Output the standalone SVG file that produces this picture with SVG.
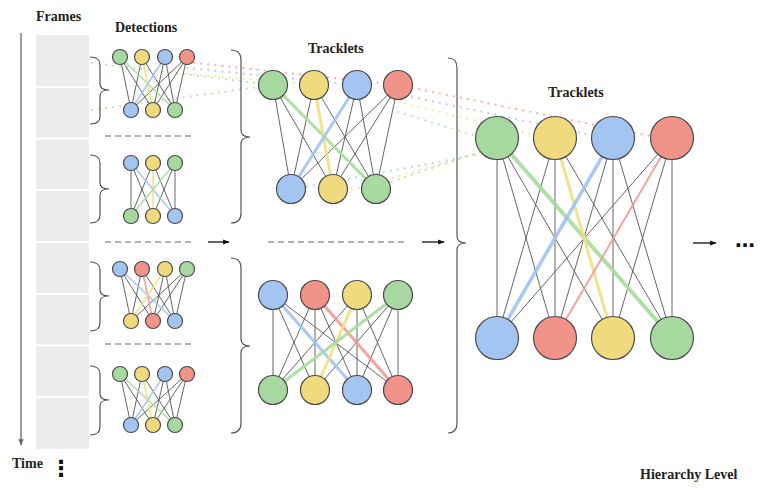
<svg xmlns="http://www.w3.org/2000/svg" width="771" height="492" viewBox="0 0 771 492">
<defs>
<style>
.t{font-family:"Liberation Serif","DejaVu Serif",serif;font-weight:bold;font-size:14px;fill:#222}
.n{stroke:#4a4a4a;stroke-width:1.2}
.G{fill:#a6d8a0}.Y{fill:#efdb7e}.B{fill:#a4c4f2}.R{fill:#f2938a}
.e{stroke:#555;stroke-width:0.9;fill:none}
.ce{fill:none;stroke-width:1.6;opacity:0.9}
.ce2{fill:none;stroke-width:3;opacity:0.9}
.eg{stroke:#a6dc9c}.ey{stroke:#efe080}.eb{stroke:#9fc2f5}.er{stroke:#f29a92}
.br{fill:none;stroke:#555;stroke-width:1.2}
.dash{stroke:#666;stroke-width:1.2;stroke-dasharray:6 4}
.dot{fill:none;stroke-width:2.2;stroke-linecap:round;stroke-dasharray:0.1 7;opacity:0.75}
.ar{stroke:#111;stroke-width:1.3}
</style>
<marker id="ah" viewBox="0 0 10 10" refX="9" refY="5" markerWidth="5" markerHeight="5" orient="auto">
<path d="M0,1 L10,5 L0,9 z" fill="#111"/>
</marker>
<marker id="ahg" viewBox="0 0 10 10" refX="9" refY="5" markerWidth="5" markerHeight="5" orient="auto">
<path d="M0,1 L10,5 L0,9 z" fill="#666"/>
</marker>
</defs>
<rect width="771" height="492" fill="#fff"/>

<!-- frames column -->
<g id="frames">
<rect x="36" y="35" width="53" height="414" fill="#ececec"/>
<g stroke="#fff" stroke-width="2">
<line x1="36" y1="87" x2="89" y2="87"/>
<line x1="36" y1="138.5" x2="89" y2="138.5"/>
<line x1="36" y1="190" x2="89" y2="190"/>
<line x1="36" y1="242" x2="89" y2="242"/>
<line x1="36" y1="294" x2="89" y2="294"/>
<line x1="36" y1="345.5" x2="89" y2="345.5"/>
<line x1="36" y1="397" x2="89" y2="397"/>
</g>
</g>
<g id="time-axis">
<line x1="21" y1="33" x2="21" y2="445" stroke="#666" stroke-width="1.3" marker-end="url(#ahg)"/>
</g>

<!-- labels -->
<text class="t" x="36" y="21">Frames</text>
<text class="t" x="115" y="32">Detections</text>
<text class="t" x="308" y="53">Tracklets</text>
<text class="t" x="548" y="97">Tracklets</text>
<text class="t" x="12" y="468">Time</text>
<text x="61" y="476" text-anchor="middle" style="font-family:'DejaVu Sans',sans-serif;font-weight:bold;font-size:22px;fill:#111">⋮</text>
<text class="t" x="640" y="479">Hierarchy Level</text>
<text x="735" y="247" style="font-family:'DejaVu Sans',sans-serif;font-weight:bold;font-size:20px;fill:#111">…</text>

<!-- connectors -->
<g id="connectors">
<!-- dotted trails -->
<g id="trails">
<line class="dot eg" x1="92" y1="63" x2="273" y2="85"/>
<line class="dot eg" x1="92" y1="110" x2="273" y2="85"/>
<line class="dot er" x1="187" y1="62" x2="398" y2="85"/>
<line class="dot eb" x1="187" y1="68" x2="357" y2="85"/>
<line class="dot ey" x1="187" y1="74" x2="314" y2="85"/>
<line class="dot er" x1="398" y1="85" x2="660" y2="138"/>
<line class="dot eb" x1="398" y1="94" x2="605" y2="138"/>
<line class="dot ey" x1="398" y1="102" x2="548" y2="138"/>
<line class="dot eg" x1="398" y1="112" x2="490" y2="140"/>
<line class="dot eb" x1="300" y1="188" x2="480" y2="154"/>
<line class="dot ey" x1="345" y1="192" x2="482" y2="152"/>
<line class="dot eg" x1="385" y1="184" x2="485" y2="150"/>
</g>

<!-- detection group 1 -->
<g class="e">
<line x1="120" y1="57" x2="131" y2="110"/><line x1="120" y1="57" x2="153" y2="110"/>
<line x1="142" y1="57" x2="131" y2="110"/><line x1="142" y1="57" x2="175" y2="110"/>
<line x1="165" y1="57" x2="153" y2="110"/><line x1="165" y1="57" x2="175" y2="110"/>
<line x1="187" y1="57" x2="131" y2="110"/><line x1="187" y1="57" x2="153" y2="110"/><line x1="187" y1="57" x2="175" y2="110"/>
</g>
<line class="ce eg" x1="120" y1="57" x2="175" y2="110"/>
<line class="ce ey" x1="142" y1="57" x2="153" y2="110"/>
<line class="ce eb" x1="165" y1="57" x2="131" y2="110"/>

<!-- detection group 2 -->
<g class="e">
<line x1="131" y1="163" x2="131" y2="216"/><line x1="131" y1="163" x2="153" y2="216"/>
<line x1="153" y1="163" x2="131" y2="216"/><line x1="153" y1="163" x2="175" y2="216"/>
<line x1="175" y1="163" x2="153" y2="216"/><line x1="175" y1="163" x2="175" y2="216"/>
</g>
<line class="ce eb" x1="131" y1="163" x2="175" y2="216"/>
<line class="ce ey" x1="153" y1="163" x2="153" y2="216"/>
<line class="ce eg" x1="175" y1="163" x2="131" y2="216"/>

<!-- detection group 3 -->
<g class="e">
<line x1="120" y1="269" x2="131" y2="321"/><line x1="120" y1="269" x2="153" y2="321"/>
<line x1="142" y1="269" x2="131" y2="321"/><line x1="142" y1="269" x2="175" y2="321"/>
<line x1="165" y1="269" x2="153" y2="321"/><line x1="165" y1="269" x2="175" y2="321"/>
<line x1="187" y1="269" x2="131" y2="321"/><line x1="187" y1="269" x2="153" y2="321"/><line x1="187" y1="269" x2="175" y2="321"/>
</g>
<line class="ce eb" x1="120" y1="269" x2="175" y2="321"/>
<line class="ce er" x1="142" y1="269" x2="153" y2="321"/>
<line class="ce ey" x1="165" y1="269" x2="131" y2="321"/>

<!-- detection group 4 -->
<g class="e">
<line x1="120" y1="374" x2="131" y2="425"/><line x1="120" y1="374" x2="153" y2="425"/>
<line x1="142" y1="374" x2="131" y2="425"/><line x1="142" y1="374" x2="175" y2="425"/>
<line x1="165" y1="374" x2="153" y2="425"/><line x1="165" y1="374" x2="175" y2="425"/>
<line x1="187" y1="374" x2="131" y2="425"/><line x1="187" y1="374" x2="153" y2="425"/><line x1="187" y1="374" x2="175" y2="425"/>
</g>
<line class="ce eg" x1="120" y1="374" x2="175" y2="425"/>
<line class="ce ey" x1="142" y1="374" x2="153" y2="425"/>
<line class="ce eb" x1="165" y1="374" x2="131" y2="425"/>

<!-- middle tracklets A -->
<g class="e">
<line x1="273" y1="85" x2="291" y2="189"/><line x1="273" y1="85" x2="333" y2="189"/>
<line x1="314" y1="85" x2="291" y2="189"/><line x1="314" y1="85" x2="376" y2="189"/>
<line x1="357" y1="85" x2="333" y2="189"/><line x1="357" y1="85" x2="376" y2="189"/>
<line x1="398" y1="85" x2="291" y2="189"/><line x1="398" y1="85" x2="333" y2="189"/><line x1="398" y1="85" x2="376" y2="189"/>
</g>
<line class="ce2 eg" x1="273" y1="85" x2="376" y2="189"/>
<line class="ce2 ey" x1="314" y1="85" x2="333" y2="189"/>
<line class="ce2 eb" x1="357" y1="85" x2="291" y2="189"/>

<!-- middle tracklets B -->
<g class="e">
<line x1="273" y1="295" x2="273" y2="390"/><line x1="273" y1="295" x2="315" y2="390"/><line x1="273" y1="295" x2="398" y2="390"/>
<line x1="315" y1="295" x2="273" y2="390"/><line x1="315" y1="295" x2="315" y2="390"/><line x1="315" y1="295" x2="357" y2="390"/>
<line x1="357" y1="295" x2="273" y2="390"/><line x1="357" y1="295" x2="357" y2="390"/><line x1="357" y1="295" x2="398" y2="390"/>
<line x1="398" y1="295" x2="315" y2="390"/><line x1="398" y1="295" x2="357" y2="390"/><line x1="398" y1="295" x2="398" y2="390"/>
</g>
<line class="ce2 eb" x1="273" y1="295" x2="357" y2="390"/>
<line class="ce2 er" x1="315" y1="295" x2="398" y2="390"/>
<line class="ce2 ey" x1="357" y1="295" x2="315" y2="390"/>
<line class="ce2 eg" x1="398" y1="295" x2="273" y2="390"/>

<!-- right tracklets -->
<g class="e">
<line x1="497" y1="138" x2="497" y2="338"/><line x1="497" y1="138" x2="555" y2="338"/><line x1="497" y1="138" x2="613" y2="338"/>
<line x1="555" y1="138" x2="497" y2="338"/><line x1="555" y1="138" x2="555" y2="338"/><line x1="555" y1="138" x2="672" y2="338"/>
<line x1="613" y1="138" x2="555" y2="338"/><line x1="613" y1="138" x2="613" y2="338"/><line x1="613" y1="138" x2="672" y2="338"/>
<line x1="672" y1="138" x2="497" y2="338"/><line x1="672" y1="138" x2="613" y2="338"/><line x1="672" y1="138" x2="672" y2="338"/>
</g>
<line class="ce2 eg" x1="497" y1="138" x2="672" y2="338" style="stroke-width:4"/>
<line class="ce2 ey" x1="555" y1="138" x2="613" y2="338"/>
<line class="ce2 eb" x1="613" y1="138" x2="497" y2="338" style="stroke-width:3.5"/>
<line class="ce2 er" x1="672" y1="138" x2="555" y2="338" style="stroke-width:2"/>

<!-- separators and arrows -->
<line class="dash" x1="105" y1="136" x2="194" y2="136"/>
<line class="dash" x1="105" y1="242" x2="194" y2="242"/>
<line class="dash" x1="105" y1="344" x2="194" y2="344"/>
<line class="dash" x1="268" y1="242" x2="408" y2="242"/>
<line class="ar" x1="208" y1="242" x2="229" y2="242" marker-end="url(#ah)"/>
<line class="ar" x1="422" y1="242" x2="444" y2="242" marker-end="url(#ah)"/>
<line class="ar" x1="693" y1="243" x2="716" y2="243" marker-end="url(#ah)"/>

<!-- braces -->
<path class="br" d="M90,57 Q100,57 100,65 L100,84 Q100,90 109,90 Q100,90 100,96 L100,117 Q100,124 90,124"/>
<path class="br" d="M90,155 Q100,155 100,163 L100,183 Q100,189 109,189 Q100,189 100,195 L100,215 Q100,223 90,223"/>
<path class="br" d="M90,262 Q100,262 100,270 L100,290 Q100,296 109,296 Q100,296 100,302 L100,323 Q100,331 90,331"/>
<path class="br" d="M90,366 Q100,366 100,374 L100,394 Q100,400 109,400 Q100,400 100,406 L100,427 Q100,435 90,435"/>
<path class="br" d="M231,50 Q241,50 241,60 L241,130 Q241,137 250,137 Q241,137 241,144 L241,213 Q241,223 231,223"/>
<path class="br" d="M231,258 Q241,258 241,268 L241,339 Q241,346 250,346 Q241,346 241,353 L241,423 Q241,433 231,433"/>
<path class="br" d="M448,58 Q457,58 457,68 L457,236 Q457,243 466,243 Q457,243 457,250 L457,423 Q457,433 448,433"/>
</g>

<!-- nodes: detection group 1 -->
<g id="d1-t1"><circle class="n G" cx="120" cy="57" r="7.5"/></g>
<g id="d1-t2"><circle class="n Y" cx="142" cy="57" r="7.5"/></g>
<g id="d1-t3"><circle class="n B" cx="165" cy="57" r="7.5"/></g>
<g id="d1-t4"><circle class="n R" cx="187" cy="57" r="7.5"/></g>
<g id="d1-b1"><circle class="n B" cx="131" cy="110" r="7.5"/></g>
<g id="d1-b2"><circle class="n Y" cx="153" cy="110" r="7.5"/></g>
<g id="d1-b3"><circle class="n G" cx="175" cy="110" r="7.5"/></g>
<!-- detection group 2 -->
<g id="d2-t1"><circle class="n B" cx="131" cy="163" r="7.5"/></g>
<g id="d2-t2"><circle class="n Y" cx="153" cy="163" r="7.5"/></g>
<g id="d2-t3"><circle class="n G" cx="175" cy="163" r="7.5"/></g>
<g id="d2-b1"><circle class="n G" cx="131" cy="216" r="7.5"/></g>
<g id="d2-b2"><circle class="n Y" cx="153" cy="216" r="7.5"/></g>
<g id="d2-b3"><circle class="n B" cx="175" cy="216" r="7.5"/></g>
<!-- detection group 3 -->
<g id="d3-t1"><circle class="n B" cx="120" cy="269" r="7.5"/></g>
<g id="d3-t2"><circle class="n R" cx="142" cy="269" r="7.5"/></g>
<g id="d3-t3"><circle class="n Y" cx="165" cy="269" r="7.5"/></g>
<g id="d3-t4"><circle class="n G" cx="187" cy="269" r="7.5"/></g>
<g id="d3-b1"><circle class="n Y" cx="131" cy="321" r="7.5"/></g>
<g id="d3-b2"><circle class="n R" cx="153" cy="321" r="7.5"/></g>
<g id="d3-b3"><circle class="n B" cx="175" cy="321" r="7.5"/></g>
<!-- detection group 4 -->
<g id="d4-t1"><circle class="n G" cx="120" cy="374" r="7.5"/></g>
<g id="d4-t2"><circle class="n Y" cx="142" cy="374" r="7.5"/></g>
<g id="d4-t3"><circle class="n B" cx="165" cy="374" r="7.5"/></g>
<g id="d4-t4"><circle class="n R" cx="187" cy="374" r="7.5"/></g>
<g id="d4-b1"><circle class="n B" cx="131" cy="425" r="7.5"/></g>
<g id="d4-b2"><circle class="n Y" cx="153" cy="425" r="7.5"/></g>
<g id="d4-b3"><circle class="n G" cx="175" cy="425" r="7.5"/></g>
<!-- middle tracklets A -->
<g id="ma-t1"><circle class="n G" cx="273" cy="85" r="14.5"/></g>
<g id="ma-t2"><circle class="n Y" cx="314" cy="85" r="14.5"/></g>
<g id="ma-t3"><circle class="n B" cx="357" cy="85" r="14.5"/></g>
<g id="ma-t4"><circle class="n R" cx="398" cy="85" r="14.5"/></g>
<g id="ma-b1"><circle class="n B" cx="291" cy="189" r="14.5"/></g>
<g id="ma-b2"><circle class="n Y" cx="333" cy="189" r="14.5"/></g>
<g id="ma-b3"><circle class="n G" cx="376" cy="189" r="14.5"/></g>
<!-- middle tracklets B -->
<g id="mb-t1"><circle class="n B" cx="273" cy="295" r="14.5"/></g>
<g id="mb-t2"><circle class="n R" cx="315" cy="295" r="14.5"/></g>
<g id="mb-t3"><circle class="n Y" cx="357" cy="295" r="14.5"/></g>
<g id="mb-t4"><circle class="n G" cx="398" cy="295" r="14.5"/></g>
<g id="mb-b1"><circle class="n G" cx="273" cy="390" r="14.5"/></g>
<g id="mb-b2"><circle class="n Y" cx="315" cy="390" r="14.5"/></g>
<g id="mb-b3"><circle class="n B" cx="357" cy="390" r="14.5"/></g>
<g id="mb-b4"><circle class="n R" cx="398" cy="390" r="14.5"/></g>
<!-- right tracklets -->
<g id="r-t1"><circle class="n G" cx="497" cy="138" r="21.5"/></g>
<g id="r-t2"><circle class="n Y" cx="555" cy="138" r="21.5"/></g>
<g id="r-t3"><circle class="n B" cx="613" cy="138" r="21.5"/></g>
<g id="r-t4"><circle class="n R" cx="672" cy="138" r="21.5"/></g>
<g id="r-b1"><circle class="n B" cx="497" cy="338" r="21.5"/></g>
<g id="r-b2"><circle class="n R" cx="555" cy="338" r="21.5"/></g>
<g id="r-b3"><circle class="n Y" cx="613" cy="338" r="21.5"/></g>
<g id="r-b4"><circle class="n G" cx="672" cy="338" r="21.5"/></g>
</svg>
